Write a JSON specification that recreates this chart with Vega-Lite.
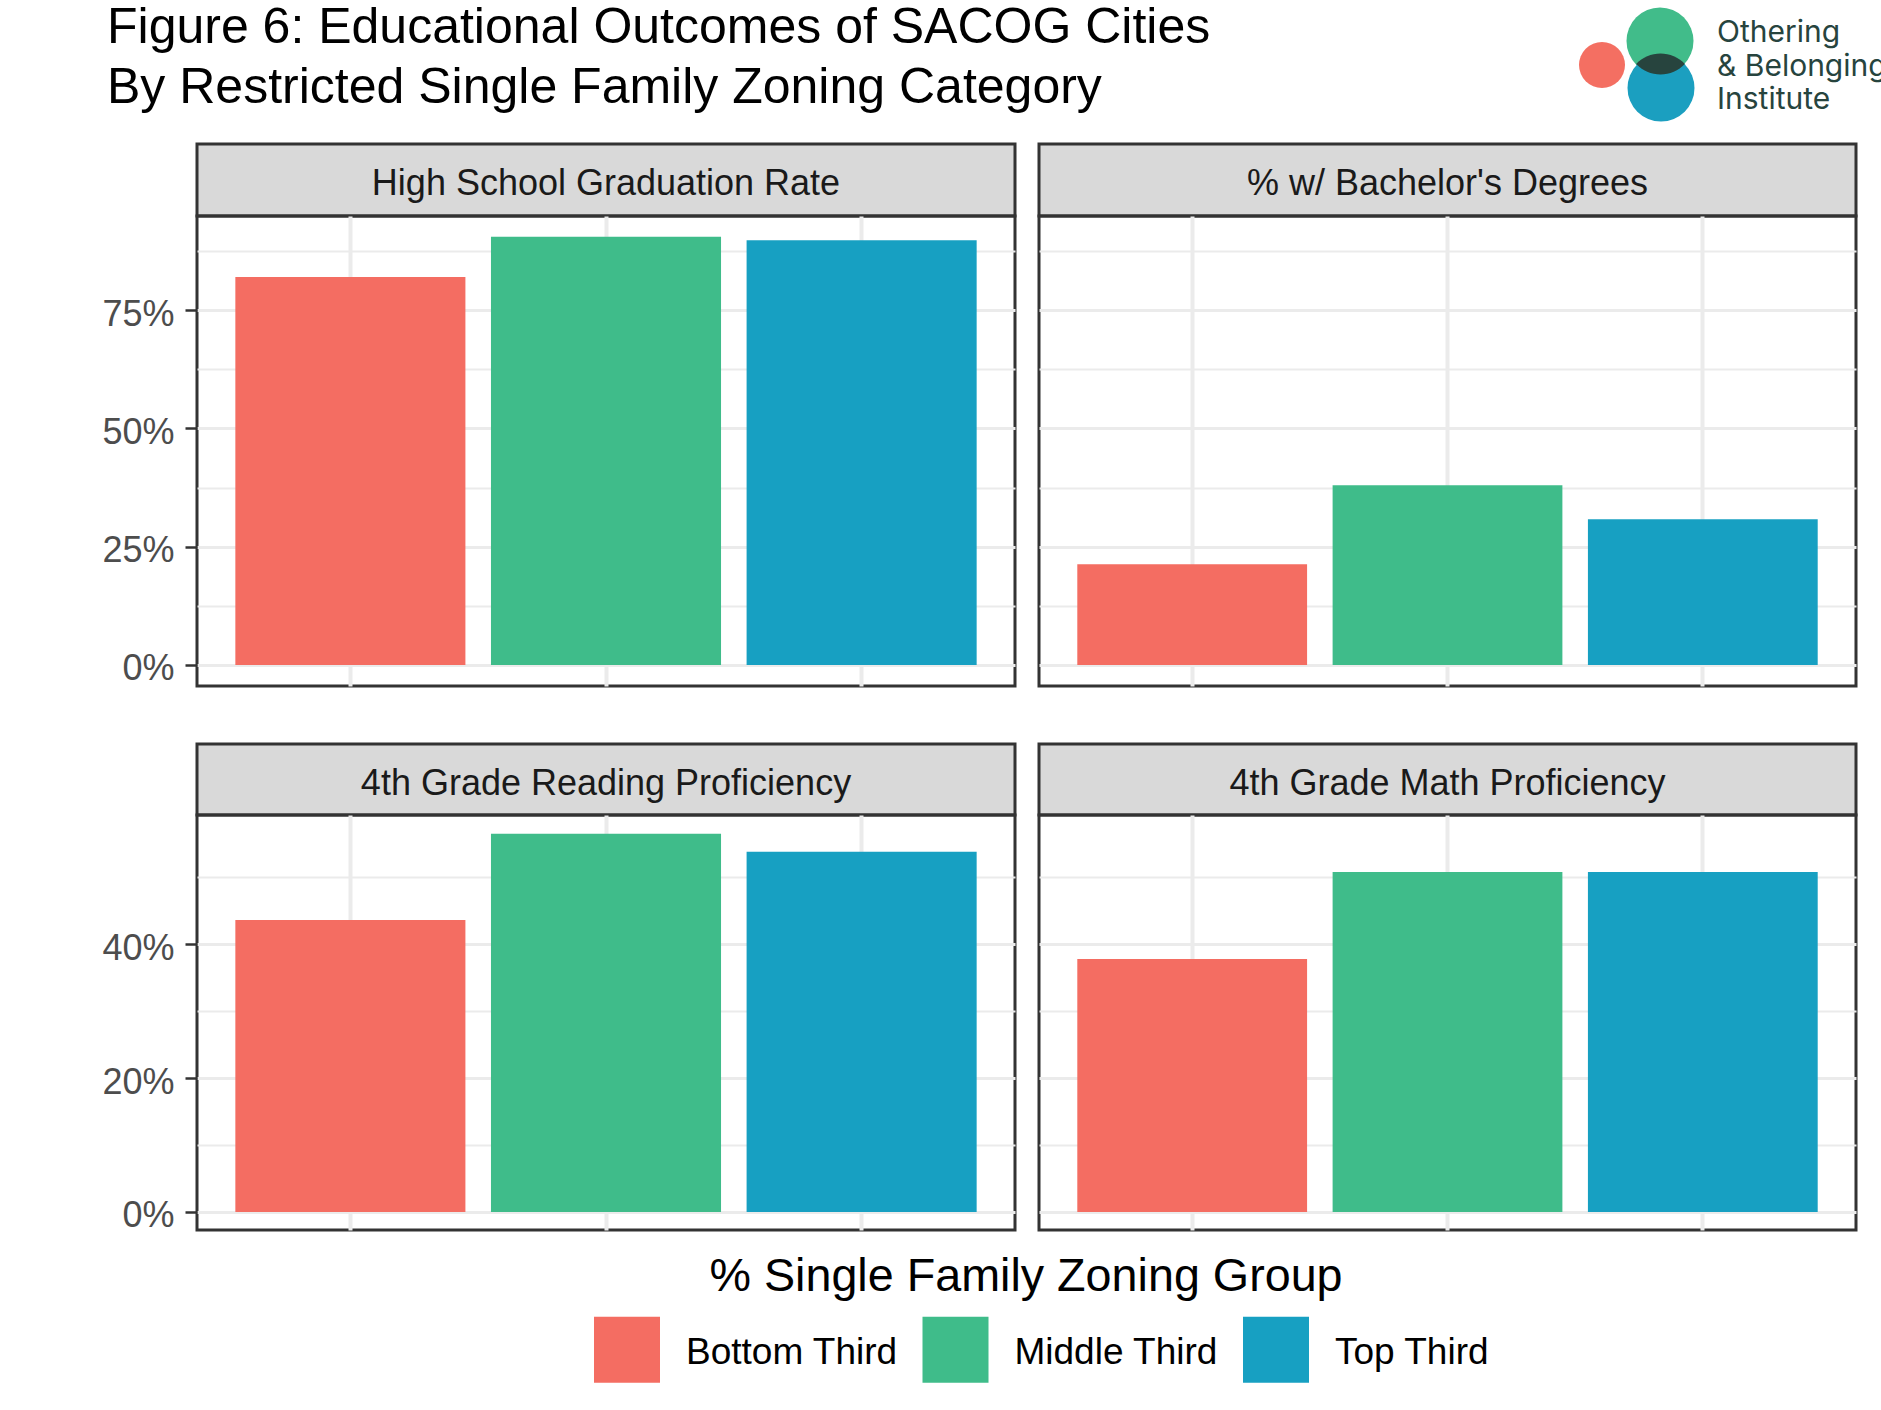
{
  "$schema": "https://vega.github.io/schema/vega-lite/v6.json",
  "background": "white",
  "padding": {"left": 100, "top": 0, "right": 0, "bottom": 0},
  "bounds": "flush",
  "columns": 2,
  "spacing": {"row": 0, "column": 24},
  "config": {
    "font": "Liberation Sans",
    "view": {"stroke": null},
    "axisX": {"grid": true, "gridColor": "#ebebeb", "gridWidth": 4, "ticks": false, "labels": false, "domain": false, "title": null},
    "axisY": {"grid": true, "gridColor": "#ebebeb", "domain": false, "title": null}
  },
  "datasets": {
    "outcomes": [
      {"panel": "High School Graduation Rate", "group": "Bottom Third", "value": 0.82},
      {"panel": "High School Graduation Rate", "group": "Middle Third", "value": 0.905},
      {"panel": "High School Graduation Rate", "group": "Top Third", "value": 0.898},
      {"panel": "% w/ Bachelor's Degrees", "group": "Bottom Third", "value": 0.213},
      {"panel": "% w/ Bachelor's Degrees", "group": "Middle Third", "value": 0.38},
      {"panel": "% w/ Bachelor's Degrees", "group": "Top Third", "value": 0.308},
      {"panel": "4th Grade Reading Proficiency", "group": "Bottom Third", "value": 0.436},
      {"panel": "4th Grade Reading Proficiency", "group": "Middle Third", "value": 0.565},
      {"panel": "4th Grade Reading Proficiency", "group": "Top Third", "value": 0.538},
      {"panel": "4th Grade Math Proficiency", "group": "Bottom Third", "value": 0.378},
      {"panel": "4th Grade Math Proficiency", "group": "Middle Third", "value": 0.508},
      {"panel": "4th Grade Math Proficiency", "group": "Top Third", "value": 0.508}
    ],
    "panels": [
      {"panel": "High School Graduation Rate"},
      {"panel": "% w/ Bachelor's Degrees"},
      {"panel": "4th Grade Reading Proficiency"},
      {"panel": "4th Grade Math Proficiency"}
    ],
    "blank": [{"note": ""}],
    "logo": [
      {"part": "red", "x": 563, "y": 65},
      {"part": "green", "x": 621, "y": 41},
      {"part": "blue", "x": 622, "y": 88},
      {"part": "lens", "x": 621.5, "y": 64},
      {"part": "text", "x": 678, "y": 42, "label": "Othering"},
      {"part": "text", "x": 678, "y": 76, "label": "& Belonging"},
      {"part": "text", "x": 678, "y": 109, "label": "Institute"}
    ]
  },
  "concat": [
    {
      "width": 818,
      "height": 144,
      "data": {"name": "blank"},
      "title": {
        "text": ["Figure 6: Educational Outcomes of SACOG Cities", "By Restricted Single Family Zoning Category"],
        "anchor": "start",
        "frame": "group",
        "baseline": "top",
        "offset": -144,
        "dx": -90,
        "dy": -31,
        "fontSize": 50,
        "fontWeight": "normal",
        "lineHeight": 60,
        "color": "black"
      },
      "mark": {"type": "text"},
      "encoding": {"text": {"field": "note"}}
    },
    {
      "width": 817,
      "height": 144,
      "data": {"name": "logo"},
      "encoding": {
        "x": {"field": "x", "type": "quantitative", "scale": {"domain": [0, 817], "nice": false}, "axis": null},
        "y": {"field": "y", "type": "quantitative", "scale": {"domain": [144, 0], "nice": false}, "axis": null}
      },
      "layer": [
        {"transform": [{"filter": "datum.part === 'red'"}], "mark": {"type": "point", "shape": "circle", "filled": true, "opacity": 1, "size": 2116, "color": "#F46F62"}},
        {"transform": [{"filter": "datum.part === 'green'"}], "mark": {"type": "point", "shape": "circle", "filled": true, "opacity": 1, "size": 4489, "color": "#41BC8A"}},
        {"transform": [{"filter": "datum.part === 'blue'"}], "mark": {"type": "point", "shape": "circle", "filled": true, "opacity": 1, "size": 4489, "color": "#1B9FC0"}},
        {"transform": [{"filter": "datum.part === 'lens'"}], "mark": {"type": "point", "shape": "M-0.5,0 A0.69,0.69 0 0 1 0.5,0 A0.69,0.69 0 0 1 -0.5,0 Z", "filled": true, "opacity": 1, "size": 9488, "color": "#27443E"}},
        {"transform": [{"filter": "datum.part === 'text'"}], "mark": {"type": "text", "align": "left", "baseline": "alphabetic", "font": "Inter", "fontSize": 30, "color": "#27443E"}, "encoding": {"text": {"field": "label"}}}
      ]
    },
    {
      "width": 818, "height": 72,
      "data": {"name": "panels"},
      "transform": [{"filter": "datum.panel === 'High School Graduation Rate'"}],
      "view": {"fill": "#d9d9d9", "stroke": "#333333", "strokeWidth": 3},
      "mark": {"type": "text", "fontSize": 36, "color": "#1a1a1a", "dy": 4},
      "encoding": {"text": {"field": "panel"}}
    },
    {
      "width": 817, "height": 72,
      "data": {"name": "panels"},
      "transform": [{"filter": "datum.panel === \"% w/ Bachelor's Degrees\""}],
      "view": {"fill": "#d9d9d9", "stroke": "#333333", "strokeWidth": 3},
      "mark": {"type": "text", "fontSize": 36, "color": "#1a1a1a", "dy": 4},
      "encoding": {"text": {"field": "panel"}}
    },
    {
      "width": 818, "height": 470,
      "data": {"name": "outcomes"},
      "transform": [{"filter": "datum.panel === 'High School Graduation Rate'"}],
      "view": {"stroke": "#333333", "strokeWidth": 3},
      "mark": "bar",
      "encoding": {
        "x": {"field": "group", "type": "nominal", "scale": {"paddingInner": 0.1, "paddingOuter": 0.15}, "axis": {"ticks": false}},
        "y": {"field": "value", "type": "quantitative",
          "scale": {"domain": [-0.0444, 0.949], "nice": false, "zero": false},
          "axis": {
            "values": [0, 0.125, 0.25, 0.375, 0.5, 0.625, 0.75, 0.875],
            "labelExpr": "datum.value * 8 % 2 > 0.5 ? '' : format(datum.value, '.0%')",
            "labelFontSize": 36, "labelColor": "#4d4d4d", "labelPadding": 11, "labelOffset": 4,
            "tickColor": "#333333", "tickWidth": 2.5, "tickSize": 12,
            "tickOpacity": {"condition": {"test": "datum.value * 8 % 2 > 0.5", "value": 0}, "value": 1},
            "gridWidth": {"condition": {"test": "datum.value * 8 % 2 > 0.5", "value": 2}, "value": 3}
          }},
        "color": {"field": "group", "type": "nominal",
          "scale": {"domain": ["Bottom Third", "Middle Third", "Top Third"], "range": ["#F46D62", "#3FBC8A", "#17A0C2"]},
          "legend": {
            "orient": "none", "legendX": 397, "legendY": 1254, "direction": "horizontal",
            "title": "% Single Family Zoning Group", "titleOrient": "top", "titleAnchor": "middle", "titleLimit": 900,
            "titleFontSize": 46.7, "titleFontWeight": "normal", "titleColor": "black", "titlePadding": 16,
            "symbolType": "square", "symbolSize": 4356, "symbolOpacity": 1, "symbolStrokeWidth": 0,
            "labelFontSize": 37, "labelColor": "black", "labelOffset": 26, "columnPadding": 24.5, "labelLimit": 400,
            "encoding": {"title": {"dx": {"value": -16}}, "labels": {"dy": {"value": 3}}}
          }}
      }
    },
    {
      "width": 817, "height": 470,
      "data": {"name": "outcomes"},
      "transform": [{"filter": "datum.panel === \"% w/ Bachelor's Degrees\""}],
      "view": {"stroke": "#333333", "strokeWidth": 3},
      "mark": "bar",
      "encoding": {
        "x": {"field": "group", "type": "nominal", "scale": {"paddingInner": 0.1, "paddingOuter": 0.15}, "axis": {"ticks": false}},
        "y": {"field": "value", "type": "quantitative",
          "scale": {"domain": [-0.0444, 0.949], "nice": false, "zero": false},
          "axis": {
            "values": [0, 0.125, 0.25, 0.375, 0.5, 0.625, 0.75, 0.875],
            "labels": false, "ticks": false,
            "gridWidth": {"condition": {"test": "datum.value * 8 % 2 > 0.5", "value": 2}, "value": 3}
          }},
        "color": {"field": "group", "type": "nominal",
          "scale": {"domain": ["Bottom Third", "Middle Third", "Top Third"], "range": ["#F46D62", "#3FBC8A", "#17A0C2"]}}
      }
    },
    {
      "width": 818, "height": 58,
      "data": {"name": "blank"},
      "mark": {"type": "text"},
      "encoding": {"text": {"field": "note"}}
    },
    {
      "width": 817, "height": 58,
      "data": {"name": "blank"},
      "mark": {"type": "text"},
      "encoding": {"text": {"field": "note"}}
    },
    {
      "width": 818, "height": 71,
      "data": {"name": "panels"},
      "transform": [{"filter": "datum.panel === '4th Grade Reading Proficiency'"}],
      "view": {"fill": "#d9d9d9", "stroke": "#333333", "strokeWidth": 3},
      "mark": {"type": "text", "fontSize": 36, "color": "#1a1a1a", "dy": 4},
      "encoding": {"text": {"field": "panel"}}
    },
    {
      "width": 817, "height": 71,
      "data": {"name": "panels"},
      "transform": [{"filter": "datum.panel === '4th Grade Math Proficiency'"}],
      "view": {"fill": "#d9d9d9", "stroke": "#333333", "strokeWidth": 3},
      "mark": {"type": "text", "fontSize": 36, "color": "#1a1a1a", "dy": 4},
      "encoding": {"text": {"field": "panel"}}
    },
    {
      "width": 818, "height": 415,
      "data": {"name": "outcomes"},
      "transform": [{"filter": "datum.panel === '4th Grade Reading Proficiency'"}],
      "view": {"stroke": "#333333", "strokeWidth": 3},
      "mark": "bar",
      "encoding": {
        "x": {"field": "group", "type": "nominal", "scale": {"paddingInner": 0.1, "paddingOuter": 0.15}, "axis": {"ticks": false}},
        "y": {"field": "value", "type": "quantitative",
          "scale": {"domain": [-0.027, 0.593], "nice": false, "zero": false},
          "axis": {
            "values": [0, 0.1, 0.2, 0.3, 0.4, 0.5],
            "labelExpr": "datum.value * 10 % 2 > 0.5 ? '' : format(datum.value, '.0%')",
            "labelFontSize": 36, "labelColor": "#4d4d4d", "labelPadding": 11, "labelOffset": 4,
            "tickColor": "#333333", "tickWidth": 2.5, "tickSize": 12,
            "tickOpacity": {"condition": {"test": "datum.value * 10 % 2 > 0.5", "value": 0}, "value": 1},
            "gridWidth": {"condition": {"test": "datum.value * 10 % 2 > 0.5", "value": 2}, "value": 3}
          }},
        "color": {"field": "group", "type": "nominal",
          "scale": {"domain": ["Bottom Third", "Middle Third", "Top Third"], "range": ["#F46D62", "#3FBC8A", "#17A0C2"]}}
      }
    },
    {
      "width": 817, "height": 415,
      "data": {"name": "outcomes"},
      "transform": [{"filter": "datum.panel === '4th Grade Math Proficiency'"}],
      "view": {"stroke": "#333333", "strokeWidth": 3},
      "mark": "bar",
      "encoding": {
        "x": {"field": "group", "type": "nominal", "scale": {"paddingInner": 0.1, "paddingOuter": 0.15}, "axis": {"ticks": false}},
        "y": {"field": "value", "type": "quantitative",
          "scale": {"domain": [-0.027, 0.593], "nice": false, "zero": false},
          "axis": {
            "values": [0, 0.1, 0.2, 0.3, 0.4, 0.5],
            "labels": false, "ticks": false,
            "gridWidth": {"condition": {"test": "datum.value * 10 % 2 > 0.5", "value": 2}, "value": 3}
          }},
        "color": {"field": "group", "type": "nominal",
          "scale": {"domain": ["Bottom Third", "Middle Third", "Top Third"], "range": ["#F46D62", "#3FBC8A", "#17A0C2"]}}
      }
    }
  ]
}
